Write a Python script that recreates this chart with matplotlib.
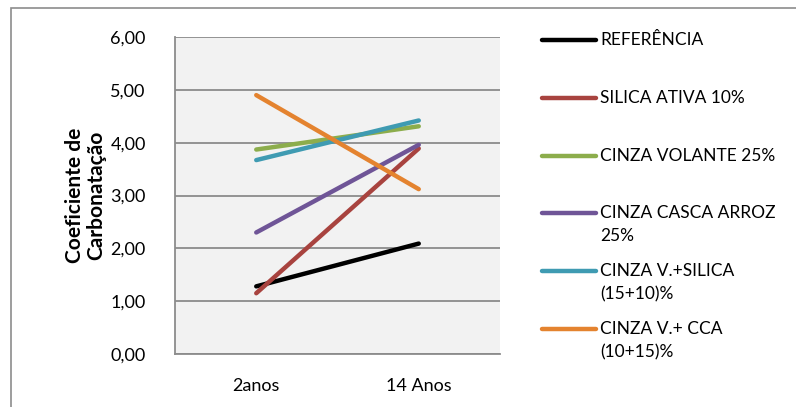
import matplotlib.pyplot as plt
from matplotlib.lines import Line2D
from matplotlib.patches import Rectangle

plt.rcParams["font.family"] = ["Lato", "DejaVu Sans"]

categories = ["2anos", "14 Anos"]
series_names = [
    "REFERÊNCIA",
    "SILICA ATIVA 10%",
    "CINZA VOLANTE 25%",
    "CINZA CASCA ARROZ\n25%",
    "CINZA V.+SILICA\n(15+10)%",
    "CINZA V.+ CCA\n(10+15)%",
]
referencia = [1.28, 2.09]
silica_ativa = [1.15, 3.89]
cinza_volante = [3.87, 4.31]
cinza_casca = [2.30, 3.96]
cinza_v_silica = [3.67, 4.42]
cinza_v_cca = [4.90, 3.12]
yticks = [0, 1, 2, 3, 4, 5, 6]

series = [referencia, silica_ativa, cinza_volante, cinza_casca, cinza_v_silica, cinza_v_cca]
colors = ["#000000", "#A8433F", "#8CAD4C", "#6F5597", "#3F9BB2", "#E4832F"]

fig = plt.figure(figsize=(7.96, 4.07), dpi=100)

# outer chart frame (only left/top visible in the crop)
fig.patches.append(Rectangle((11 / 796, -0.1), 1.2, (407 - 8) / 407 + 0.1,
                             transform=fig.transFigure, fill=False,
                             edgecolor="#8C8C8C", linewidth=1.2))

ax = fig.add_axes([175 / 796, 53 / 407, 325 / 796, 317 / 407])
ax.set_facecolor("#F2F2F2")

x = range(len(categories))
for vals, c, name in zip(series, colors, series_names):
    ax.plot(x, vals, color=c, linewidth=3.2, solid_capstyle="round", label=name)

ax.set_xlim(-0.5, 1.5)
ax.set_ylim(0, 6)
ax.set_yticks(yticks)
ax.set_yticklabels([f"{v:.2f}".replace(".", ",") for v in yticks])
ax.set_xticks(list(x))
ax.set_xticklabels(categories)
ax.tick_params(length=0, labelsize=13, colors="#000000")
ax.tick_params(axis="y", pad=21)
ax.tick_params(axis="x", pad=17)
ax.grid(axis="y", color="#8C8C8C", linewidth=1.3)
ax.set_axisbelow(True)
for side in ["top", "right"]:
    ax.spines[side].set_visible(False)
for side in ["left", "bottom"]:
    ax.spines[side].set_color("#8C8C8C")
    ax.spines[side].set_linewidth(1.3)

ax.set_ylabel("Coeficiente de\nCarbonatação", fontsize=15, fontweight="bold",
              labelpad=3, linespacing=1.1)

# legend, drawn by hand so entries keep Excel's even spacing
legend_y = [40, 98, 156, 213, 271, 329]
for name, c, yp in zip(series_names, colors, legend_y):
    yf = 1 - yp / 407
    fig.add_artist(Line2D([542 / 796, 596 / 796], [yf, yf], color=c,
                          linewidth=3.2, solid_capstyle="round",
                          transform=fig.transFigure))
    fig.text(600 / 796, yf + 8 / 407, name, fontsize=12.5, va="top",
             ha="left", linespacing=1.55)

fig.savefig("out.png", dpi=100)
